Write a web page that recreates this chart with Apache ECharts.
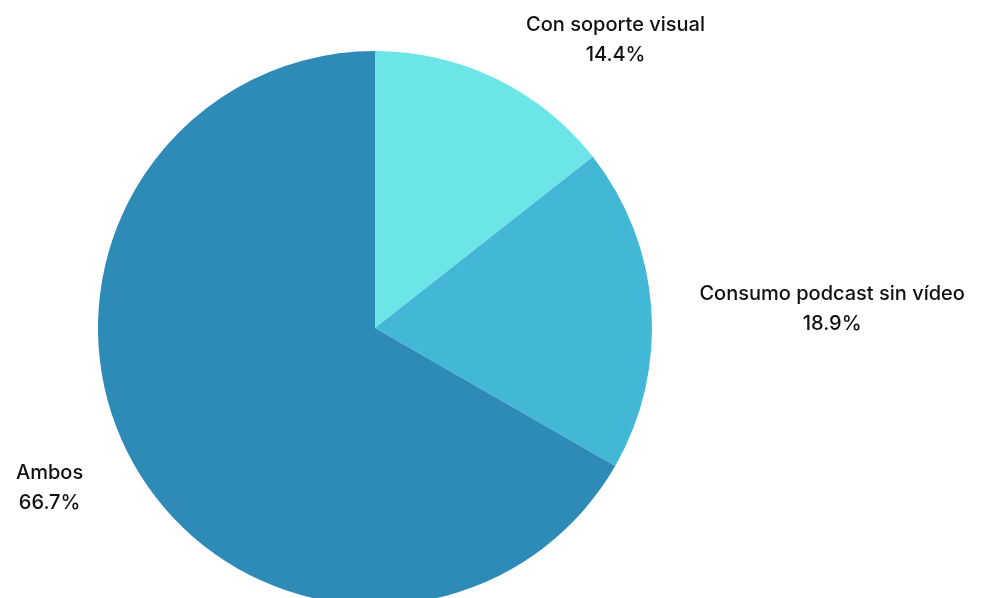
<!DOCTYPE html>
<html>
<head>
<meta charset="utf-8">
<script src="https://cdn.jsdelivr.net/npm/echarts@6/dist/echarts.min.js"></script>
<style>
  html, body { margin: 0; padding: 0; background: #fff; }
  #chart { width: 997px; height: 598px; }
</style>
</head>
<body>
<div id="chart"></div>
<script>
var categories = ['Con soporte visual', 'Consumo podcast sin vídeo', 'Ambos'];
var values = [14.4, 18.9, 66.7];
var colors = ['#6BE5E8', '#42B7D6', '#2E8BB8'];

var chart = echarts.init(document.getElementById('chart'));

var data = categories.map(function (name, i) {
    return { name: name, value: values[i], itemStyle: { color: colors[i] } };
});

// nudge the labels away from the default outside spot
var labelShift = [[97, -3], [136, 4], [-46, 1]];

chart.setOption({
    animation: false,
    series: [{
        type: 'pie',
        center: [375, 328],
        radius: 277,
        startAngle: 90,
        data: data,
        label: {
            position: 'outside',
            formatter: '{b}\n{c}%',
            fontFamily: 'Inter',
            fontSize: 20,
            fontWeight: 500,
            lineHeight: 30,
            color: '#111'
        },
        labelLine: { show: false, length: 40, length2: 0 },
        labelLayout: function (p) {
            var s = labelShift[p.dataIndex];
            return { align: 'center', dx: s[0], dy: s[1] };
        }
    }]
});
</script>
</body>
</html>
